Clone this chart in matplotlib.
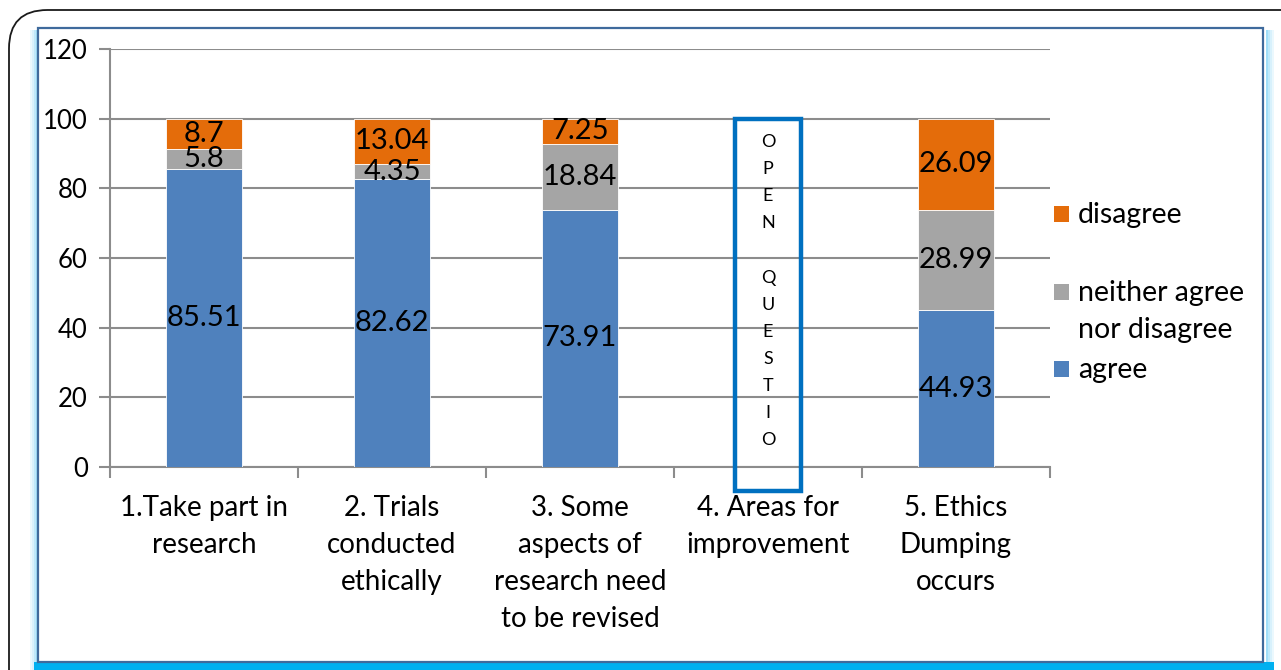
#
# stacked bar chart - agree / neither / disagree per question
#

import matplotlib.pyplot as plt
from matplotlib.patches import Rectangle, FancyBboxPatch

plt.rcParams['font.family'] = ['Lato', 'DejaVu Sans']

# data
kategorier = ['1.Take part in\nresearch', '2. Trials\nconducted\nethically',
              '3. Some\naspects of\nresearch need\nto be revised',
              '4. Areas for\nimprovement', '5. Ethics\nDumping\noccurs']
agree = [85.51, 82.62, 73.91, 0, 44.93]
neither = [5.8, 4.35, 18.84, 0, 28.99]
disagree = [8.7, 13.04, 7.25, 0, 26.09]
serie_navn = ['agree', 'neither agree\nnor disagree', 'disagree']
farger = ['#4F81BD', '#A5A5A5', '#E46C0A']
open_idx = 3  # open question, no bars

W, H = 1281, 670
fig = plt.figure(figsize=(W / 100, H / 100), dpi=100)

def px(x, y):
    # pixel coords (top-left origin) -> figure coords
    return x / W, 1 - y / H

# outer rounded frame
x0, y0 = px(9, 10)
fig.add_artist(FancyBboxPatch((x0, -0.2), 1.2, y0 + 0.2, boxstyle='round,pad=0,rounding_size=0.03',
                              transform=fig.transFigure, fill=False, ec='#1a1a1a', lw=1.3,
                              mutation_aspect=W / H, zorder=-5))

# glow around inner frame
for i, a in enumerate([0.15, 0.3, 0.5, 0.75]):
    gx, gy = px(30 + i * 2, 30)
    fig.add_artist(Rectangle((gx, 0), 2 / W, gy, transform=fig.transFigure,
                             color='#7fd3f7', alpha=a, lw=0, zorder=-5))
    gx, gy = px(1272 - i * 2, 30)
    fig.add_artist(Rectangle((gx, 0), 2 / W, gy, transform=fig.transFigure,
                             color='#7fd3f7', alpha=a, lw=0, zorder=-5))
bx, by = px(34, 670)
fig.add_artist(Rectangle((bx, 0), 1240 / W, 8 / H, transform=fig.transFigure,
                         color='#00B0F0', lw=0, zorder=-5))

# inner frame
fx, fy = px(38, 662)
fig.add_artist(Rectangle((fx, fy), (1263 - 38) / W, (662 - 28) / H, transform=fig.transFigure,
                         fc='white', ec='#3f6a9c', lw=1.6, zorder=-4))

ax = fig.add_axes([110 / W, (670 - 467) / H, (1050 - 110) / W, (467 - 49) / H])
ax.set_facecolor('none')
ax.set_zorder(2)

x = list(range(len(kategorier)))
bunn = [0] * len(x)
for verdier, farge in zip([agree, neither, disagree], farger):
    for i in x:
        if i == open_idx:
            continue
        ax.bar(i, verdier[i], 0.4, bottom=bunn[i], color=farge, edgecolor='white', lw=0.6, zorder=3)
        ax.text(i, bunn[i] + verdier[i] / 2, f'{verdier[i]:g}', ha='center', va='center',
                fontsize=21, color='black', zorder=4)
    bunn = [b + v for b, v in zip(bunn, verdier)]

# open question box
ax.add_patch(Rectangle((open_idx - 0.178, -7.0), 0.356, 107, fill=False, ec='#0070C0',
                       lw=3.2, clip_on=False, zorder=5))
ax.text(open_idx, 50.5, '\n'.join('OPEN QUESTIO'), ha='center', va='center',
        fontsize=13, linespacing=1.85, zorder=6)

ax.set_xlim(-0.5, 4.5)
ax.set_ylim(0, 120)
ax.set_yticks(range(0, 121, 20))
ax.yaxis.grid(True, color='#8c8c8c', lw=1.5, zorder=0)
ax.set_axisbelow(True)
for s in ['top', 'right']:
    ax.spines[s].set_visible(False)
for s in ['left', 'bottom']:
    ax.spines[s].set_color('#8c8c8c')
    ax.spines[s].set_linewidth(1.5)

ax.set_xticks(x)
ax.set_xticklabels(kategorier, fontsize=20, linespacing=1.53, va='top')
ax.tick_params(axis='x', which='major', length=0, pad=20)
ax.set_xticks([i - 0.5 for i in range(len(x) + 1)], minor=True)
ax.tick_params(axis='x', which='minor', length=8, width=1.5, color='#8c8c8c', direction='out')
ax.tick_params(axis='y', length=8, width=1.5, color='#8c8c8c', labelsize=18.5, pad=8)

# legend drawn by hand: square + text
leg_y = {'disagree': 214, 'neither agree\nnor disagree': 292, 'agree': 369}
for navn, farge in zip(serie_navn, farger):
    ly = leg_y[navn]
    sx, sy = px(1054, ly + 8)
    fig.add_artist(Rectangle((sx, sy), 15 / W, 16 / H, transform=fig.transFigure, color=farge, lw=0))
    tx, ty = px(1078, ly - 12)
    fig.text(tx, ty, navn, fontsize=20.5, va='top', ha='left', linespacing=1.53)

fig.savefig('out.png', dpi=100)
